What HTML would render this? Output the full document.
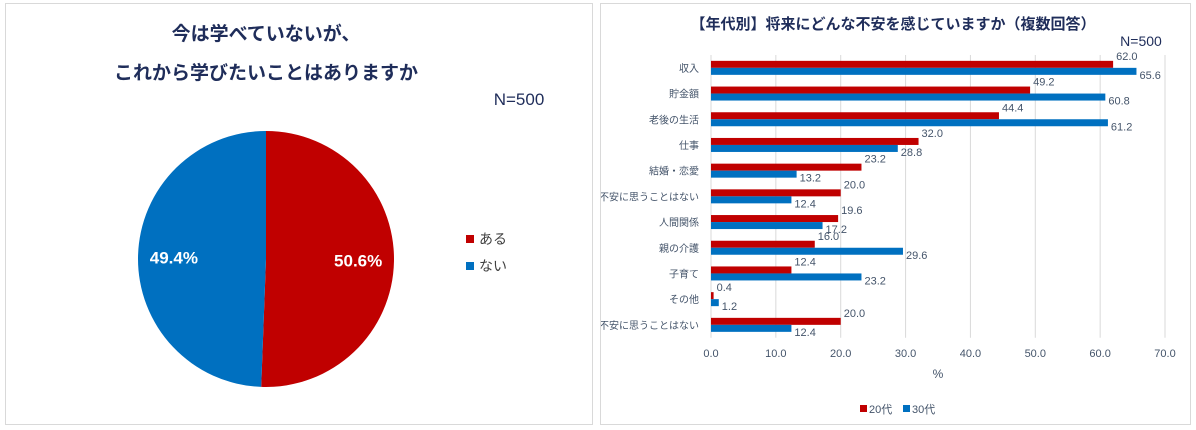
<!DOCTYPE html>
<html><head><meta charset="utf-8"><style>
body{margin:0;width:1196px;height:430px;background:#fff;overflow:hidden;font-family:"Liberation Sans","Noto Sans CJK JP",sans-serif}
.panel{position:absolute;border:1px solid #d9d9d9;background:#fff}
</style></head><body>
<div class="panel" style="left:5px;top:3px;width:586px;height:420px">
<svg width="586" height="420">
<text x="260" y="36" text-anchor="middle" font-size="19" font-weight="bold" fill="#1f2d5a">今は学べていないが、</text>
<text x="260" y="75" text-anchor="middle" font-size="19" font-weight="bold" fill="#1f2d5a">これから学びたいことはありますか</text>
<text x="513" y="101" text-anchor="middle" font-size="17" fill="#1f2d5a">N=500</text>
<g id="pie"></g>
<rect x="460" y="231" width="8" height="8" fill="#c00000"/>
<text x="473" y="240" font-size="14" fill="#404040">ある</text>
<rect x="460" y="258" width="8" height="8" fill="#0070c0"/>
<text x="473" y="267" font-size="14" fill="#404040">ない</text>
</svg></div>
<div class="panel" style="left:600px;top:3px;width:589px;height:420px">
<svg width="589" height="420" id="bars">
<text x="292" y="25" text-anchor="middle" font-size="15" font-weight="bold" fill="#1f2d5a">【年代別】将来にどんな不安を感じていますか（複数回答）</text>
<text x="540" y="42" text-anchor="middle" font-size="14" fill="#1f2d5a">N=500</text>
<text x="337" y="374" text-anchor="middle" font-size="12" fill="#44546a">%</text>
<rect x="259" y="401" width="7" height="7" fill="#c00000"/>
<text x="268" y="409" font-size="11" fill="#44546a">20代</text>
<rect x="302" y="401" width="7" height="7" fill="#0070c0"/>
<text x="311" y="409" font-size="11" fill="#44546a">30代</text>
</svg></div>
<script>
const pieLabels=["ある","ない"];
const pieValues=[50.6,49.4];
const categories=["収入","貯金額","老後の生活","仕事","結婚・恋愛","不安に思うことはない","人間関係","親の介護","子育て","その他","不安に思うことはない"];
const s20=[62.0,49.2,44.4,32.0,23.2,20.0,19.6,16.0,12.4,0.4,20.0];
const s30=[65.6,60.8,61.2,28.8,13.2,12.4,17.2,29.6,23.2,1.2,12.4];
const ticks=[0,10,20,30,40,50,60,70];
const NS="http://www.w3.org/2000/svg";
function mk(p,t,a){const e=document.createElementNS(NS,t);for(const k in a)e.setAttribute(k,a[k]);p.appendChild(e);return e;}
// pie
const pg=document.getElementById("pie");
const cx=260,cy=255,r=128,cols=["#c00000","#0070c0"];
let tot=pieValues.reduce((a,b)=>a+b,0),ang=0;
pieValues.forEach((v,i)=>{
 const a0=ang,a1=ang+v/tot*2*Math.PI;ang=a1;
 const px0=cx+r*Math.sin(a0),py0=cy-r*Math.cos(a0),px1=cx+r*Math.sin(a1),py1=cy-r*Math.cos(a1);
 const p=mk(pg,"path",{d:`M${cx},${cy}L${px0},${py0}A${r},${r} 0 ${a1-a0>Math.PI?1:0} 1 ${px1},${py1}Z`,fill:cols[i]});
 
 
 const m=(a0+a1)/2,lr=r*0.72;
 const t=mk(pg,"text",{x:cx+lr*Math.sin(m),y:cy-lr*Math.cos(m)+6,"text-anchor":"middle","font-size":"17","font-weight":"bold",fill:"#fff"});
 t.textContent=v.toFixed(1)+"%";
 
 
});
// bars
const svg=document.getElementById("bars");
const ax0=110,ax1=564,plotTop=51,pitch=25.7,bh=7;
const xs=v=>ax0+(ax1-ax0)*v/70;
ticks.forEach(t=>{
 const l=mk(svg,"line",{x1:xs(t),x2:xs(t),y1:plotTop,y2:plotTop+pitch*11,stroke:"#d9d9d9"});
 
 
 const tx=mk(svg,"text",{x:xs(t),y:353,"text-anchor":"middle","font-size":"11",fill:"#44546a"});
 tx.textContent=t.toFixed(1);
 
 
});
categories.forEach((c,i)=>{
 const yc=plotTop+pitch*(i+0.5);
 const lb=mk(svg,"text",{x:ax0-12,y:yc+4,"text-anchor":"end","font-size":"10",fill:"#44546a"});
 lb.textContent=c;
 
 
 [[s20,"#c00000",yc-bh],[s30,"#0070c0",yc]].forEach(([s,col,y],k)=>{
  const b=mk(svg,"rect",{x:ax0,y:y,width:xs(s[i])-ax0,height:bh,fill:col});
  
  
  const t=mk(svg,"text",{x:xs(s[i])+3,y:k?y+11:y-1,"font-size":"11",fill:"#44546a"});
  t.textContent=s[i].toFixed(1);
  
  
 });
});
</script>
</body></html>
